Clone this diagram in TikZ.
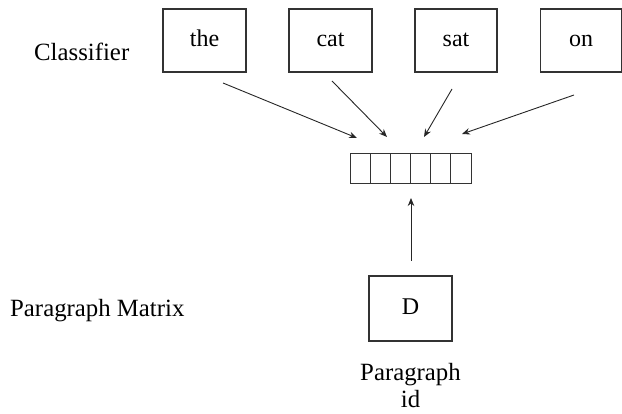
\documentclass[tikz,border=0pt]{standalone}
\usepackage{fontspec}
\setmainfont{Liberation Serif}
\usetikzlibrary{arrows.meta}
\begin{document}
\begin{tikzpicture}[x=1pt,y=-1pt,
  wordbox/.style={draw=black!80,line width=1.1pt,minimum width=83pt,minimum height=63pt,inner sep=0pt,text height=17pt,text depth=5pt,font=\fontsize{24}{28}\selectfont},
  cell/.style={draw=black!80,line width=1pt,minimum width=20.17pt,minimum height=30pt,inner sep=0pt},
  lbl/.style={inner sep=0pt,font=\fontsize{24.8}{28}\selectfont},
  conn/.style={draw=black!85,line width=0.9pt,-{Stealth[length=8pt,width=6.5pt]}}]
\useasboundingbox (0,0) rectangle (622,414);
\node[wordbox] (the) at (204.5,40.5) {the};
\node[wordbox] (cat) at (330.5,40.5) {cat};
\node[wordbox,minimum width=82pt] (sat) at (456,40.5) {sat};
\node[wordbox,minimum width=81pt] (on) at (581,40.5) {on};
\foreach \i in {1,...,6}{
  \node[cell] (c\i) at ({350+20.17*(\i-0.5)},169) {};
}
\node[wordbox,minimum height=65pt] (D) at (410.5,308.5) {D};
\node[lbl,anchor=base west] (cls) at (34,61) {Classifier};
\node[lbl,anchor=base west] (pm) at (10,317) {Paragraph Matrix};
\node[lbl,anchor=north,align=center] (pid) at (410.5,363) {Paragraph\\[-1pt]id};
\coordinate (s1) at (223,83);  \coordinate (e1) at (357,138);
\coordinate (s2) at (332,81);  \coordinate (e2) at (387,137);
\coordinate (s3) at (452,89);  \coordinate (e3) at (424,137);
\coordinate (s4) at (574,95);  \coordinate (e4) at (462,134);
\coordinate (sD) at (411,261); \coordinate (eD) at (411,198);
\draw[conn] (s1) -- (e1);
\draw[conn] (s2) -- (e2);
\draw[conn] (s3) -- (e3);
\draw[conn] (s4) -- (e4);
\draw[conn] (sD) -- (eD);
\end{tikzpicture}
\end{document}
